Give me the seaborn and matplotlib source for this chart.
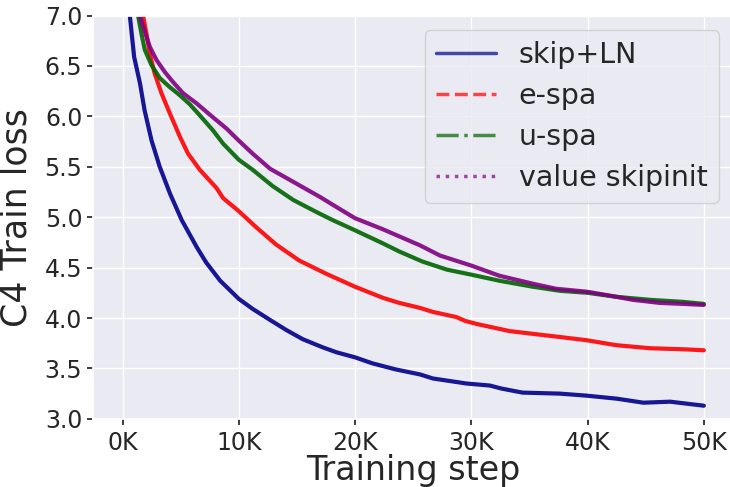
import matplotlib
matplotlib.use("Agg")
import matplotlib.pyplot as plt
from matplotlib.lines import Line2D
from matplotlib.ticker import FuncFormatter, MultipleLocator
import seaborn as sns
import pandas as pd

# values
skip_ln_step = [400, 630, 1000, 1500, 1900, 2500, 3200, 4100, 5100, 6400, 7200, 8400,
                10000, 11200, 12700, 14100, 15500, 17200, 18400, 20000, 21500, 23500,
                25600, 26700, 29600, 31600, 32600, 34400, 37600, 39900, 42500, 44800,
                47100, 50000]
skip_ln_loss = [7.6, 7.0, 6.59, 6.33, 6.06, 5.76, 5.50, 5.23, 4.97, 4.70, 4.55, 4.37,
                4.19, 4.09, 3.98, 3.88, 3.79, 3.71, 3.66, 3.61, 3.55, 3.49,
                3.44, 3.40, 3.35, 3.33, 3.30, 3.26, 3.25, 3.23, 3.20, 3.16,
                3.17, 3.13]

e_spa_step = [1500, 1770, 2060, 2350, 2780, 3350, 4070, 4930, 5640, 6650, 8080, 8650,
              10000, 11500, 13200, 15200, 17500, 20000, 22400, 23800, 25600, 26700,
              28700, 29500, 30500, 33300, 37000, 39900, 42500, 45400, 48200, 50000]
e_spa_loss = [7.4, 7.0, 6.82, 6.62, 6.42, 6.23, 6.03, 5.80, 5.63, 5.47, 5.29, 5.19,
              5.06, 4.90, 4.73, 4.57, 4.44, 4.31, 4.20, 4.15, 4.10, 4.06,
              4.01, 3.97, 3.94, 3.87, 3.82, 3.78, 3.73, 3.70, 3.69, 3.68]

u_spa_step = [1100, 1340, 1630, 1920, 2490, 3210, 4070, 4930, 5790, 6650, 7790, 8650,
              10000, 11200, 12900, 14700, 16700, 18100, 20000, 22400, 23800, 25800,
              27900, 30000, 32400, 35300, 37600, 40000, 42500, 45400, 48200, 50000]
u_spa_loss = [7.4, 7.0, 6.82, 6.66, 6.51, 6.38, 6.29, 6.21, 6.12, 6.01, 5.86, 5.73,
              5.57, 5.47, 5.31, 5.17, 5.05, 4.97, 4.87, 4.74, 4.66, 4.56,
              4.48, 4.43, 4.37, 4.31, 4.27, 4.25, 4.21, 4.18, 4.16, 4.14]

vsi_step = [1200, 1490, 1920, 2350, 2920, 3640, 4350, 5210, 6360, 7790, 8940, 10000,
            11200, 12700, 14700, 17000, 18700, 20000, 22400, 23800, 25600, 27300,
            30000, 32400, 35300, 37300, 40000, 42500, 43900, 46200, 48200, 50000]
vsi_loss = [7.4, 7.0, 6.84, 6.69, 6.56, 6.44, 6.34, 6.23, 6.13, 5.99, 5.88, 5.76,
            5.63, 5.48, 5.35, 5.20, 5.08, 4.99, 4.88, 4.81, 4.72, 4.62,
            4.52, 4.42, 4.34, 4.29, 4.26, 4.21, 4.18, 4.15, 4.14, 4.13]

labels = ["skip+LN", "e-spa", "u-spa", "value skipinit"]
colors = ["darkblue", "red", "darkgreen", "purple"]
styles = ["-", "--", "-.", ":"]

sns.set_theme(style="darkgrid", rc={
    "xtick.bottom": True, "ytick.left": True,
    "xtick.major.size": 4, "ytick.major.size": 4,
    "xtick.major.pad": 5, "ytick.major.pad": 4,
    "xtick.color": ".15", "ytick.color": ".15",
})

fig = plt.figure(figsize=(7.3, 4.87), dpi=100)
ax = fig.add_axes([0.128, 0.140, 0.876, 0.828])

series = [(skip_ln_step, skip_ln_loss), (e_spa_step, e_spa_loss),
          (u_spa_step, u_spa_loss), (vsi_step, vsi_loss)]
for (steps, loss), label, color in zip(series, labels, colors):
    df = pd.DataFrame({"step": steps, "loss": loss})
    sns.lineplot(data=df, x="step", y="loss", color=color, linewidth=3.0,
                 alpha=0.9, ax=ax, legend=False)

ax.set_xlim(-2500, 52500)
ax.set_ylim(3.0, 7.0)
ax.xaxis.set_major_locator(MultipleLocator(10000))
ax.yaxis.set_major_locator(MultipleLocator(0.5))
ax.xaxis.set_major_formatter(FuncFormatter(lambda v, p: f"{int(round(v / 1000))}K"))
ax.yaxis.set_major_formatter(FuncFormatter(lambda v, p: f"{v:.1f}"))
ax.tick_params(labelsize=17)

ax.set_xlabel("Training step", fontsize=24, labelpad=-1)
ax.set_ylabel("C4 Train loss", fontsize=25, labelpad=8)

handles = [Line2D([], [], color=c, linestyle=s, linewidth=2.5, alpha=0.7)
           for c, s in zip(colors, styles)]
ax.legend(handles, labels, loc="upper right", fontsize=20.5, labelspacing=0.45,
          handlelength=2.1, framealpha=0.8)

fig.savefig("out.png", dpi=100)
